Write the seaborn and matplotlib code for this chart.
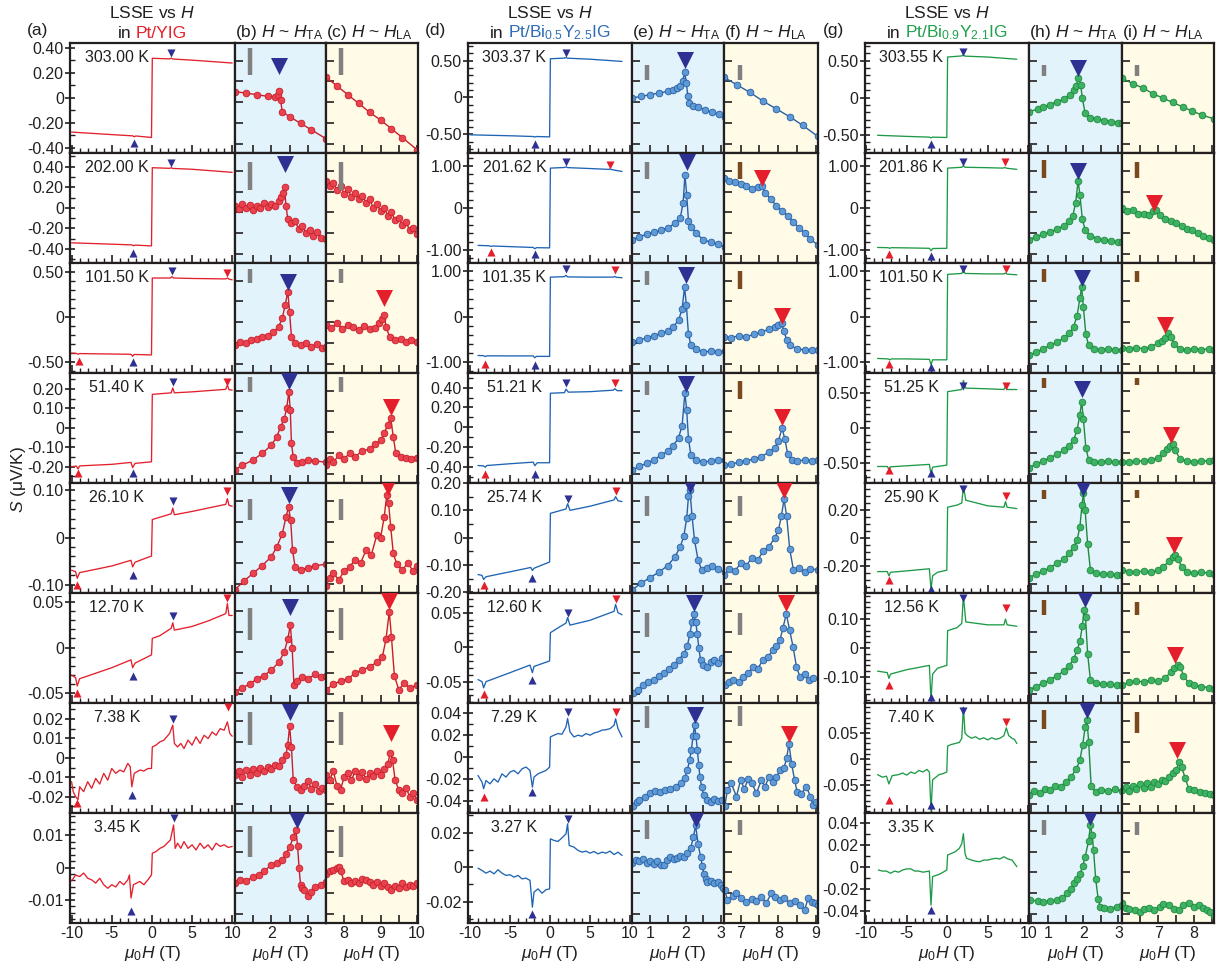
import matplotlib
matplotlib.use("Agg")
import matplotlib.pyplot as plt
import numpy as np
import pandas as pd
import seaborn as sns
from matplotlib.ticker import MultipleLocator, FixedLocator

sns.set_theme(style="white")
plt.rcParams["font.family"] = ["Liberation Sans", "DejaVu Sans"]
plt.rcParams["mathtext.fontset"] = "custom"
plt.rcParams["mathtext.rm"] = "Liberation Sans"
plt.rcParams["mathtext.it"] = "Liberation Sans:italic"
plt.rcParams["mathtext.bf"] = "Liberation Sans:bold"

# ---------------- labels ----------------
temps_yig = ["303.00 K", "202.00 K", "101.50 K", "51.40 K", "26.10 K", "12.70 K", "7.38 K", "3.45 K"]
temps_bi05 = ["303.37 K", "201.62 K", "101.35 K", "51.21 K", "25.74 K", "12.60 K", "7.29 K", "3.27 K"]
temps_bi09 = ["303.55 K", "201.86 K", "101.50 K", "51.25 K", "25.90 K", "12.56 K", "7.40 K", "3.35 K"]

# ---------------- LSSE curves (mu0H [T], S [uV/K]) ----------------
lsse_yig = [
    [(-10,-0.275),(-5,-0.295),(-2.4,-0.305),(-2.2,-0.312),(-2.0,-0.306),(-0.05,-0.318),(0.05,0.315),(2.2,0.31),(2.4,0.316),(2.6,0.309),(5,0.3),(10,0.277)],
    [(-10,-0.34),(-5,-0.353),(-2.5,-0.36),(-2.3,-0.368),(-2.1,-0.362),(-0.05,-0.37),(0.05,0.39),(2.2,0.384),(2.4,0.39),(2.6,0.383),(5,0.375),(10,0.345)],
    [(-10,-0.405),(-9.4,-0.408),(-9.2,-0.418),(-9.0,-0.41),(-5,-0.415),(-2.6,-0.418),(-2.4,-0.44),(-2.2,-0.42),(-0.05,-0.425),(0.05,0.43),(2.3,0.43),(2.5,0.445),(2.7,0.43),(5,0.425),(9.2,0.42),(9.4,0.43),(9.6,0.418),(10,0.41)],
    [(-10,-0.2),(-9.4,-0.197),(-9.2,-0.212),(-9.0,-0.196),(-5,-0.188),(-2.6,-0.178),(-2.4,-0.205),(-2.1,-0.183),(-0.05,-0.175),(0.05,0.172),(2.4,0.18),(2.6,0.205),(2.8,0.18),(5,0.185),(9.2,0.198),(9.4,0.22),(9.6,0.196),(10,0.194)],
    [(-10,-0.069),(-9.5,-0.072),(-9.3,-0.086),(-9.0,-0.074),(-5,-0.06),(-2.6,-0.048),(-2.4,-0.062),(-2.1,-0.052),(-0.05,-0.039),(0.05,0.038),(2.4,0.05),(2.6,0.062),(2.8,0.048),(5,0.055),(9.2,0.07),(9.4,0.082),(9.6,0.068),(10,0.066)],
    [(-10,-0.03),(-9.5,-0.033),(-9.3,-0.042),(-9.0,-0.034),(-7,-0.028),(-5,-0.022),(-2.6,-0.0134),(-2.4,-0.022),(-2.1,-0.017),(-0.05,-0.008),(0.05,0.01),(1,0.013),(2.4,0.021),(2.6,0.027),(2.8,0.019),(5,0.023),(7,0.029),(9.2,0.037),(9.4,0.048),(9.6,0.035),(10,0.035)],
    [(-10,-0.0123),(-9.8,-0.0174),(-9.5,-0.02),(-9.2,-0.0215),(-9,-0.0149),(-8.5,-0.0174),(-8,-0.0123),(-7.5,-0.0157),(-7,-0.0106),(-6.5,-0.0135),(-6,-0.008),(-5.5,-0.0115),(-5,-0.0055),(-4.5,-0.008),(-4,-0.0063),(-3.5,-0.0072),(-3,-0.0029),(-2.7,-0.0046),(-2.5,-0.0149),(-2.2,-0.008),(-1.5,-0.0063),(-1,-0.0068),(-0.5,-0.0055),(-0.05,-0.0055),(0.05,0.0056),(0.5,0.0065),(1,0.0082),(1.5,0.0091),(2.2,0.0125),(2.6,0.0168),(2.8,0.0074),(3.2,0.0056),(3.6,0.0074),(4,0.0048),(4.5,0.0091),(5,0.0065),(5.5,0.0108),(6,0.0074),(6.5,0.0116),(7,0.0099),(7.5,0.0133),(8,0.0116),(8.5,0.015),(9,0.0142),(9.4,0.0185),(9.7,0.0125),(10,0.0111)],
    [(-10,-0.0041),(-9.5,-0.0023),(-9,-0.0028),(-8.5,-0.0017),(-8,-0.0033),(-7.5,-0.0038),(-7,-0.0048),(-6.5,-0.0033),(-6,-0.0053),(-5.5,-0.0064),(-5,-0.0053),(-4.5,-0.006),(-4,-0.0043),(-3.5,-0.0053),(-3,-0.0038),(-2.8,-0.0023),(-2.6,-0.0094),(-2.3,-0.0053),(-1.5,-0.0043),(-1,-0.0053),(-0.5,-0.0038),(-0.05,-0.0023),(0.05,0.0044),(0.5,0.0049),(1,0.0059),(1.5,0.0065),(2.3,0.0085),(2.7,0.0131),(2.9,0.0059),(3.2,0.0075),(3.6,0.0059),(4,0.008),(4.5,0.0059),(5,0.007),(5.5,0.0054),(6,0.0075),(6.5,0.0059),(7,0.007),(7.5,0.0054),(8,0.0075),(8.5,0.0065),(9,0.007),(9.5,0.0062),(10,0.0065)],
]
lsse_bi05 = [
    [(-10,-0.507),(-5,-0.52),(-2.1,-0.53),(-1.9,-0.537),(-1.7,-0.53),(-0.05,-0.535),(0.05,0.526),(1.8,0.535),(2.0,0.542),(2.2,0.534),(5,0.52),(9,0.49)],
    [(-9,-0.89),(-7.6,-0.9),(-7.4,-0.915),(-7.2,-0.905),(-5,-0.92),(-2.1,-0.94),(-1.9,-0.97),(-1.7,-0.945),(-0.05,-0.95),(0.05,0.95),(1.8,0.965),(2.0,0.98),(2.2,0.962),(5,0.94),(7.3,0.92),(7.5,0.93),(7.7,0.915),(9,0.87)],
    [(-9,-0.85),(-8.3,-0.855),(-8.1,-0.875),(-7.9,-0.858),(-5,-0.86),(-2.1,-0.86),(-1.9,-0.9),(-1.7,-0.87),(-0.05,-0.87),(0.05,0.87),(1.8,0.88),(2.0,0.91),(2.2,0.875),(5,0.87),(7.9,0.87),(8.1,0.885),(8.3,0.865),(9,0.857)],
    [(-9,-0.388),(-8.3,-0.392),(-8.1,-0.405),(-7.9,-0.388),(-5,-0.37),(-2.1,-0.354),(-1.9,-0.39),(-1.6,-0.36),(-0.05,-0.36),(0.05,0.344),(1.8,0.35),(2.0,0.385),(2.3,0.355),(5,0.36),(7.9,0.375),(8.1,0.39),(8.4,0.37),(9,0.37)],
    [(-9,-0.135),(-8.5,-0.138),(-8.3,-0.153),(-8.0,-0.143),(-5,-0.125),(-2.4,-0.109),(-2.2,-0.12),(-2.0,-0.112),(-0.05,-0.089),(0.05,0.089),(2.0,0.105),(2.2,0.124),(2.5,0.1),(5,0.115),(8.0,0.138),(8.2,0.15),(8.5,0.135),(9,0.132)],
    [(-9,-0.047),(-8.5,-0.05),(-8.3,-0.059),(-8.0,-0.05),(-5,-0.037),(-2.5,-0.026),(-2.2,-0.037),(-2.0,-0.028),(-0.05,-0.02),(0.05,0.021),(1,0.028),(2.0,0.035),(2.2,0.043),(2.5,0.032),(5,0.039),(8.0,0.052),(8.2,0.062),(8.5,0.05),(9,0.047)],
    [(-9,-0.0169),(-8.5,-0.023),(-8.3,-0.029),(-8,-0.0215),(-7.5,-0.0246),(-7,-0.02),(-6.5,-0.023),(-6,-0.0154),(-5.5,-0.0184),(-5,-0.0138),(-4.5,-0.0123),(-4,-0.0154),(-3.5,-0.0108),(-3,-0.0092),(-2.5,-0.0123),(-2.2,-0.0276),(-2,-0.0184),(-1.5,-0.0154),(-1,-0.0138),(-0.5,-0.0123),(-0.05,-0.0092),(0.05,0.0184),(0.5,0.02),(1,0.0215),(1.5,0.0209),(2,0.0276),(2.2,0.0353),(2.5,0.023),(3,0.0184),(3.5,0.02),(4,0.019),(4.5,0.0215),(5,0.02),(5.5,0.022),(6,0.023),(6.5,0.0246),(7,0.025),(7.5,0.026),(8,0.029),(8.2,0.035),(8.5,0.026),(8.8,0.0215),(9,0.0184)],
    [(-9,-0.0006),(-8.5,-0.0019),(-8,-0.0035),(-7.5,-0.0023),(-7,-0.0039),(-6.5,-0.0015),(-6,-0.0035),(-5.5,-0.0048),(-5,-0.0044),(-4.5,-0.0058),(-4,-0.0048),(-3.5,-0.0068),(-3,-0.0064),(-2.5,-0.0077),(-2.2,-0.0232),(-2,-0.0145),(-1.5,-0.0126),(-1,-0.0151),(-0.5,-0.0131),(-0.05,-0.0126),(0.05,0.0164),(0.5,0.0155),(1,0.0149),(1.5,0.017),(2,0.0193),(2.2,0.0251),(2.4,0.0126),(3,0.0116),(3.5,0.0097),(4,0.0087),(4.5,0.0093),(5,0.0081),(5.5,0.0091),(6,0.0077),(6.5,0.0087),(7,0.0081),(7.5,0.0093),(8,0.0073),(8.5,0.0087),(9,0.0068)],
]
lsse_bi09 = [
    [(-8.6,-0.51),(-5,-0.525),(-2.2,-0.535),(-2.0,-0.545),(-1.8,-0.535),(-0.05,-0.54),(0.05,0.55),(1.8,0.565),(2.0,0.575),(2.2,0.562),(5,0.55),(8.6,0.52)],
    [(-8.6,-0.94),(-7.3,-0.945),(-7.1,-0.96),(-6.9,-0.945),(-5,-0.95),(-2.2,-0.96),(-2.0,-1.02),(-1.8,-0.965),(-0.05,-0.96),(0.05,0.95),(1.8,0.97),(2.0,1.01),(2.2,0.97),(5,0.96),(6.9,0.95),(7.1,0.965),(7.3,0.948),(8.6,0.92)],
    [(-8.6,-0.92),(-7.3,-0.93),(-7.1,-0.95),(-6.9,-0.93),(-5,-0.93),(-2.2,-0.94),(-2.0,-1.06),(-1.8,-0.95),(-0.05,-0.95),(0.05,0.93),(1.8,0.95),(2.0,1.02),(2.2,0.95),(5,0.94),(7.0,0.94),(7.2,0.96),(7.4,0.935),(8.6,0.92)],
    [(-8.6,-0.55),(-7.4,-0.55),(-7.2,-0.59),(-7.0,-0.555),(-5,-0.54),(-2.2,-0.52),(-2.0,-0.66),(-1.8,-0.56),(-0.05,-0.53),(0.05,0.52),(1.8,0.55),(2.0,0.68),(2.3,0.57),(5,0.56),(7.0,0.55),(7.2,0.6),(7.4,0.55),(8.6,0.55)],
    [(-8.6,-0.24),(-7.4,-0.24),(-7.2,-0.27),(-7.0,-0.245),(-5,-0.235),(-2.2,-0.22),(-2.0,-0.37),(-1.8,-0.27),(-1.2,-0.245),(-0.05,-0.23),(0.05,0.22),(1.2,0.235),(1.8,0.25),(2.0,0.37),(2.3,0.27),(5,0.23),(7.0,0.22),(7.2,0.26),(7.4,0.22),(8.6,0.21)],
    [(-8.6,-0.08),(-7.4,-0.085),(-7.2,-0.105),(-7.0,-0.09),(-5,-0.075),(-2.2,-0.06),(-2.0,-0.18),(-1.8,-0.09),(-1.2,-0.07),(-0.05,-0.06),(0.05,0.06),(1.2,0.07),(1.8,0.085),(2.0,0.18),(2.3,0.09),(5,0.08),(7.0,0.08),(7.2,0.1),(7.4,0.08),(8.6,0.075)],
    [(-8.6,-0.03),(-8.0,-0.035),(-7.5,-0.033),(-7.2,-0.048),(-6.8,-0.032),(-6,-0.03),(-5.5,-0.027),(-5,-0.031),(-4.5,-0.025),(-4,-0.028),(-3.5,-0.022),(-3,-0.025),(-2.5,-0.02),(-2.2,-0.025),(-2.0,-0.1),(-1.8,-0.04),(-1.4,-0.035),(-1,-0.03),(-0.5,-0.028),(-0.05,-0.025),(0.05,0.025),(0.5,0.028),(1,0.03),(1.5,0.032),(1.8,0.04),(2.0,0.1),(2.2,0.05),(2.5,0.045),(3,0.04),(3.5,0.043),(4,0.038),(4.5,0.041),(5,0.037),(5.5,0.041),(6,0.038),(6.5,0.04),(7,0.045),(7.3,0.06),(7.6,0.045),(8,0.04),(8.3,0.038),(8.6,0.03)],
    [(-8.5,-0.003),(-8,-0.004),(-7.5,-0.004),(-7,-0.006),(-6.5,-0.004),(-6,-0.005),(-5.5,-0.003),(-5,-0.002),(-4.5,-0.002),(-4,-0.004),(-3.5,-0.004),(-3,-0.005),(-2.2,-0.004),(-2.0,-0.035),(-1.8,-0.009),(-1.4,-0.008),(-1,-0.007),(-0.5,-0.005),(-0.05,-0.003),(0.05,0.0106),(0.5,0.012),(1,0.0136),(1.5,0.0167),(1.8,0.021),(2.0,0.03),(2.2,0.012),(2.4,0.0076),(3,0.006),(3.5,0.005),(4,0.0045),(4.5,0.006),(5,0.006),(5.5,0.007),(6,0.0076),(6.5,0.007),(7,0.009),(7.5,0.007),(8,0.006),(8.6,0.0)],
]

# LSSE anomaly markers: (blue down, blue up, red down, red up)
tri_yig = [
    [(2.4,0.36),(-2.2,-0.36),None,None],
    [(2.4,0.44),(-2.3,-0.44),None,None],
    [(2.5,0.51),(-2.4,-0.50),(9.3,0.49),(-9.1,-0.49)],
    [(2.6,0.237),(-2.4,-0.235),(9.4,0.237),(-9.2,-0.235)],
    [(2.6,0.076),(-2.4,-0.078),(9.4,0.098),(-9.3,-0.10)],
    [(2.6,0.034),(-2.4,-0.0315),(9.4,0.054),(-9.3,-0.05)],
    [(2.6,0.02),(-2.5,-0.019),(9.5,0.026),(-9.3,-0.0235)],
    [(2.7,0.0152),(-2.6,-0.0135),None,None],
]
tri_bi05 = [
    [(2.0,0.61),(-1.9,-0.63),None,None],
    [(2.0,1.1),(-1.9,-1.1),(7.5,1.03),(-7.4,-1.05)],
    [(2.0,1.04),(-1.9,-1.05),(8.1,1.02),(-8.1,-1.03)],
    [(2.0,0.45),(-1.9,-0.47),(8.1,0.45),(-8.1,-0.47)],
    [(2.2,0.142),(-2.2,-0.146),(8.2,0.17),(-8.3,-0.173)],
    [(2.2,0.05),(-2.2,-0.048),(8.2,0.07),(-8.3,-0.0686)],
    [(2.2,0.041),(-2.2,-0.032),(8.2,0.041),(-8.3,-0.037)],
    [(2.2,0.028),(-2.2,-0.027),None,None],
]
tri_bi09 = [
    [(2.0,0.62),(-2.0,-0.63),None,None],
    [(2.0,1.1),(-2.0,-1.14),(7.1,1.1),(-7.2,-1.1)],
    [(2.0,1.05),(-2.0,-1.1),(7.2,1.05),(-7.2,-1.05)],
    [(2.0,0.6),(-2.0,-0.64),(7.2,0.6),(-7.2,-0.6)],
    [(2.0,0.35),(-2.0,-0.364),(7.2,0.3),(-7.2,-0.3)],
    [(2.0,0.172),(-2.0,-0.17),(7.2,0.138),(-7.2,-0.128)],
    [(2.0,0.092),(-2.0,-0.088),(7.3,0.071),(-7.2,-0.079)],
    [None,(-2.0,-0.039),None,None],
]

ylim_yig = [(-0.442,0.437),(-0.536,0.533),(-0.626,0.597),(-0.284,0.282),(-0.117,0.115),(-0.0605,0.0595),(-0.0284,0.0282),(-0.0171,0.0168)]
ylim_bi05 = [(-0.754,0.74),(-1.31,1.31),(-1.235,1.18),(-0.565,0.549),(-0.2025,0.2),(-0.081,0.0786),(-0.0513,0.0495),(-0.0324,0.0314)]
ylim_bi09 = [(-0.75,0.74),(-1.31,1.31),(-1.24,1.18),(-0.786,0.786),(-0.393,0.393),(-0.19,0.19),(-0.104,0.108),(-0.0512,0.0488)]
yt_yig = [[-0.4,-0.2,0,0.2,0.4],[-0.4,-0.2,0,0.2,0.4],[-0.5,0,0.5],[-0.2,-0.1,0,0.1,0.2],[-0.1,0,0.1],[-0.05,0,0.05],[-0.02,-0.01,0,0.01,0.02],[-0.01,0,0.01]]
yt_bi05 = [[-0.5,0,0.5],[-1,0,1],[-1,0,1],[-0.4,-0.2,0,0.2,0.4],[-0.2,-0.1,0,0.1,0.2],[-0.05,0,0.05],[-0.04,-0.02,0,0.02,0.04],[-0.02,0,0.02]]
yt_bi09 = [[-0.5,0,0.5],[-1,0,1],[-1,0,1],[-0.5,0,0.5],[-0.2,0,0.2],[-0.1,0,0.1],[-0.05,0,0.05],[-0.04,-0.02,0,0.02,0.04]]
ymin_yig = [0.1,0.1,0.1,0.05,0.02,0.01,0.005,0.002]
ymin_bi05 = [0.1,0.2,0.2,0.1,0.05,0.01,0.01,0.01]
ymin_bi09 = [0.1,0.2,0.2,0.1,0.05,0.02,0.01,0.01]

# ---------------- zoomed panels near H_TA / H_LA (signal in % of panel height) ----------------
ta_yig = [
    [(1.0,55.7),(1.3,54.5),(1.6,53),(1.9,51.5),(2.1,51),(2.18,53),(2.21,56.6),(2.25,48),(2.3,37.5),(2.5,33),(2.8,27),(3.1,21),(3.5,13)],
    [(1.0,52),(1.1,49),(1.2,54),(1.3,50),(1.4,53),(1.5,48),(1.6,52),(1.7,50),(1.8,55),(1.9,51),(2.0,54),(2.1,52),(2.2,56),(2.27,60),(2.32,64),(2.36,69),(2.4,52),(2.45,40),(2.55,36),(2.65,38),(2.75,31),(2.85,34),(2.95,27),(3.05,30),(3.15,25),(3.25,28),(3.35,23),(3.5,22)],
    [(1.0,25),(1.15,28),(1.3,27),(1.45,30),(1.6,31),(1.75,33),(1.9,34),(2.05,37),(2.2,42),(2.3,50),(2.38,62),(2.45,74),(2.5,55),(2.55,33),(2.65,27),(2.8,25),(2.95,27),(3.1,24),(3.25,26),(3.4,23),(3.5,24)],
    [(1.0,12),(1.2,16),(1.5,21),(1.75,27),(2.0,34.5),(2.15,42),(2.25,51),(2.35,58),(2.42,68),(2.48,83),(2.52,66),(2.55,36),(2.6,24),(2.7,18),(2.85,19),(3.0,21),(3.2,20),(3.5,19)],
    [(1.0,3),(1.25,11),(1.5,18),(1.75,25),(2.0,33),(2.15,42),(2.3,54),(2.4,69),(2.47,78),(2.53,66),(2.58,39),(2.65,24),(2.8,21),(3.0,23),(3.2,25),(3.5,26)],
    [(1.0,10),(1.2,14),(1.4,17),(1.6,22),(1.8,25),(2.0,30),(2.2,37),(2.35,46),(2.45,58),(2.52,71),(2.57,50),(2.62,16),(2.7,20),(2.85,24),(3.0,22),(3.2,26),(3.35,24),(3.5,25)],
    [(1.0,35),(1.1,38),(1.2,33),(1.3,39),(1.4,35),(1.5,40),(1.6,36),(1.7,41),(1.8,38),(1.9,42),(2.0,40),(2.1,44),(2.2,43),(2.3,48),(2.4,53),(2.45,62),(2.5,79),(2.55,60),(2.6,30),(2.7,24),(2.8,21),(2.9,25),(3.0,29),(3.1,22),(3.2,26),(3.3,20),(3.4,23),(3.5,21)],
    [(1.0,36),(1.15,39),(1.3,38),(1.5,42),(1.65,44),(1.8,47),(2.0,53),(2.15,55),(2.3,57),(2.4,63),(2.5,69),(2.6,78),(2.67,85),(2.72,70),(2.76,50),(2.8,35),(2.85,32),(2.9,30),(3.0,25),(3.1,28),(3.2,33),(3.35,35),(3.5,37.5)],
]
la_yig = [
    [(7.5,69),(7.8,61),(8.1,53),(8.4,45),(8.7,37),(9.0,30),(9.3,22),(9.6,14),(10.0,3)],
    [(7.5,75),(7.6,70),(7.7,73),(7.8,66),(7.9,70),(8.0,63),(8.1,67),(8.2,60),(8.3,64),(8.4,58),(8.5,61),(8.6,55),(8.7,58),(8.8,50),(8.9,54),(9.0,47),(9.1,50),(9.2,43),(9.3,46),(9.4,39),(9.5,41),(9.6,35),(9.7,37),(9.8,30),(9.9,32),(10.0,26)],
    [(7.5,44),(7.65,41),(7.8,45),(7.95,40),(8.1,44),(8.25,42),(8.4,39),(8.55,43),(8.7,40),(8.85,41),(8.95,45),(9.05,49),(9.1,53),(9.15,42),(9.25,33),(9.4,30),(9.55,31),(9.7,28),(9.85,30),(10.0,28)],
    [(7.5,16),(7.6,22),(7.7,19),(7.85,25),(8.0,22),(8.15,27),(8.3,24),(8.5,29),(8.7,31),(8.85,35),(9.0,39),(9.1,45),(9.2,53),(9.28,59),(9.35,42),(9.42,27),(9.55,24),(9.7,23),(9.85,22),(10.0,22.5)],
    [(7.5,6),(7.6,14),(7.7,18),(7.85,12),(8.0,20),(8.15,24),(8.3,30),(8.45,27),(8.6,39),(8.75,35),(8.9,53),(9.0,50),(9.1,69),(9.17,89),(9.22,82),(9.28,60),(9.35,36),(9.45,26),(9.6,21),(9.75,27),(9.9,20),(10.0,25)],
    [(7.5,12),(7.7,17),(7.9,20),(8.1,22),(8.3,27),(8.5,30),(8.7,33),(8.9,37),(9.05,42),(9.15,58),(9.24,83),(9.3,60),(9.38,25),(9.5,12),(9.65,18),(9.8,14),(10.0,16)],
    [(7.5,35),(7.6,30),(7.7,38),(7.8,25),(7.9,21),(8.0,33),(8.1,36),(8.2,30),(8.3,38),(8.4,33),(8.5,37),(8.6,31),(8.7,36),(8.8,34),(8.9,38),(9.0,35),(9.1,40),(9.2,45),(9.27,55),(9.33,48),(9.4,30),(9.5,21),(9.6,18),(9.7,23),(9.8,15),(9.9,18),(10.0,12)],
    [(7.5,45),(7.6,47),(7.7,48),(7.8,50),(7.85,51),(7.9,47),(8.0,38),(8.1,39),(8.2,36),(8.3,38),(8.4,36),(8.5,40),(8.6,39),(8.7,37),(8.8,35),(8.9,37),(9.0,34),(9.1,36),(9.2,33),(9.3,30),(9.4,34),(9.5,32),(9.6,36),(9.7,33),(9.8,35),(9.9,34),(10.0,36)],
]
ta_bi05 = [
    [(0.5,50),(0.75,51.5),(1.0,53),(1.25,54.5),(1.5,56),(1.65,57),(1.76,59),(1.85,61),(1.92,65),(1.97,74),(2.02,64),(2.06,52),(2.1,45),(2.2,43),(2.35,42),(2.55,39),(2.75,37),(2.95,35),(3.1,33)],
    [(0.5,21),(0.7,24),(0.9,26),(1.1,28),(1.3,30),(1.5,32),(1.7,36),(1.85,41),(1.93,55),(1.98,80),(2.03,62),(2.08,38),(2.15,33),(2.3,27),(2.5,21),(2.7,19),(2.9,17),(3.1,15)],
    [(0.5,28),(0.7,30),(0.9,32),(1.1,34),(1.3,36),(1.5,38),(1.65,42),(1.8,48),(1.9,58),(1.97,78),(2.02,62),(2.08,35),(2.15,25),(2.3,22),(2.5,19),(2.7,20),(2.9,19),(3.1,20)],
    [(0.5,12),(0.7,15),(0.9,18),(1.1,21),(1.3,25),(1.5,29),(1.65,34),(1.8,41),(1.9,52),(1.98,82),(2.03,66),(2.08,40),(2.15,25),(2.3,21),(2.5,19),(2.7,20),(2.9,21),(3.1,21)],
    [(0.5,3),(0.75,9),(1.0,14),(1.25,19),(1.5,25),(1.7,33),(1.85,42),(1.95,52),(2.03,68),(2.08,88),(2.12,94),(2.18,70),(2.25,48),(2.35,30),(2.45,21),(2.6,23),(2.75,25),(2.9,22),(3.1,19)],
    [(0.53,9),(0.65,12),(0.81,16),(0.95,19),(1.1,21),(1.25,25),(1.38,27),(1.52,31),(1.67,35),(1.8,39),(1.95,45),(2.05,52),(2.12,63),(2.18,74),(2.23,81),(2.28,74),(2.33,63),(2.37,50),(2.42,39),(2.5,35),(2.61,33),(2.7,37),(2.8,39),(2.92,36),(3.03,41)],
    [(0.53,6),(0.62,10),(0.7,12),(0.85,15),(1.0,18),(1.15,20),(1.29,19.4),(1.43,21),(1.57,22),(1.72,24),(1.86,27),(1.97,32),(2.05,39),(2.11,48),(2.16,57),(2.21,70),(2.25,80),(2.29,70),(2.33,57),(2.37,44),(2.4,33),(2.45,24),(2.51,16),(2.6,12),(2.7,10),(2.8,13),(2.9,11),(3.03,12)],
    [(0.5,55),(0.6,57),(0.7,56),(0.8,58),(0.9,55),(1.0,56),(1.1,54),(1.2,56),(1.3,53),(1.38,53),(1.47,57),(1.57,60),(1.66,58),(1.75,59),(1.85,61),(1.95,60),(2.05,64),(2.14,68),(2.22,78),(2.28,89),(2.35,72),(2.42,60),(2.47,52),(2.51,45),(2.56,40),(2.6,37.5),(2.7,38),(2.8,36),(2.9,37),(2.99,35),(3.05,32),(3.1,30)],
]
la_bi05 = [
    [(6.55,69),(6.9,62),(7.25,55),(7.6,47),(7.95,40),(8.3,33),(8.65,25),(9.05,15)],
    [(6.55,77),(6.7,75),(6.85,74),(7.0,72),(7.15,70),(7.3,67),(7.45,69),(7.56,70),(7.65,64),(7.8,58),(7.95,52),(8.1,47),(8.25,43),(8.4,37),(8.55,32),(8.7,27),(8.85,22),(9.05,16)],
    [(6.55,33),(6.75,32),(6.95,34),(7.15,33),(7.35,35),(7.55,37),(7.75,40),(7.9,42),(8.0,44),(8.09,45),(8.15,38),(8.22,30),(8.3,25),(8.5,22),(8.7,21),(8.9,21),(9.05,21)],
    [(6.55,16),(6.75,17),(6.95,19),(7.15,20),(7.35,22),(7.55,24),(7.75,28),(7.9,32),(8.0,38),(8.1,50),(8.17,40),(8.25,26),(8.35,21),(8.5,20),(8.7,21),(8.9,20),(9.05,21)],
    [(6.55,16),(6.7,22),(6.85,20),(7.0,27),(7.15,25),(7.3,32),(7.45,30),(7.6,38),(7.75,42),(7.9,50),(8.0,57),(8.08,70),(8.15,85),(8.22,70),(8.3,40),(8.4,21),(8.55,23),(8.7,19),(8.85,22),(9.05,21)],
    [(6.58,16),(6.7,19),(6.8,21),(6.95,19),(7.06,24),(7.2,27),(7.33,33),(7.45,31),(7.59,39),(7.72,42),(7.86,48),(7.95,52),(8.04,57),(8.12,68),(8.21,81),(8.3,66),(8.39,51),(8.48,33),(8.57,24),(8.7,26),(8.8,21),(8.92,22.5)],
    [(6.58,6),(6.65,21),(6.75,27),(6.89,15),(7.0,30),(7.1,22),(7.2,31),(7.3,27),(7.42,18),(7.55,30),(7.65,24),(7.75,33),(7.85,28),(7.95,33),(8.05,39),(8.15,41),(8.22,50),(8.28,63),(8.35,45),(8.43,30),(8.5,19),(8.6,17),(8.74,24),(8.85,15),(8.92,7),(9.0,10)],
    [(6.58,30),(6.65,21),(6.8,25),(6.89,27),(7.0,23),(7.15,19.4),(7.3,22),(7.42,20),(7.55,24),(7.68,18),(7.81,27),(7.92,24),(8.04,21),(8.15,23),(8.3,18),(8.45,20),(8.57,16),(8.7,12),(8.79,23),(8.88,19),(8.96,18),(9.05,16)],
]
ta_bi09 = [
    [(0.45,37.5),(0.7,40),(0.86,42),(1.05,44),(1.24,46.6),(1.45,49),(1.62,53),(1.72,57),(1.79,61),(1.86,68),(1.92,62),(1.97,50),(2.05,36),(2.2,32),(2.4,31),(2.6,29.5),(2.8,28.5),(3.0,27.5),(3.1,27)],
    [(0.45,21),(0.65,24),(0.85,26),(1.05,28),(1.25,31),(1.45,34),(1.6,38),(1.7,43),(1.78,55),(1.85,75),(1.9,62),(1.97,40),(2.05,30),(2.2,25),(2.4,22),(2.6,21),(2.8,20),(3.0,19),(3.1,19)],
    [(0.45,16),(0.65,19),(0.85,22),(1.05,25),(1.25,28),(1.45,32),(1.6,36),(1.72,42),(1.82,52),(1.9,68),(1.95,78),(2.0,60),(2.07,35),(2.15,25),(2.3,22),(2.5,21),(2.7,22),(2.9,21),(3.1,21)],
    [(0.45,14),(0.65,17),(0.85,20),(1.05,23),(1.25,26),(1.45,30),(1.6,34),(1.72,39),(1.82,48),(1.9,62),(1.95,74),(2.0,58),(2.07,32),(2.15,21),(2.3,19),(2.5,19),(2.7,20),(2.9,19),(3.1,19)],
    [(0.45,14),(0.65,17),(0.85,20),(1.05,23),(1.25,27),(1.45,31),(1.6,36),(1.72,42),(1.82,48),(1.9,60),(1.96,80),(2.0,91),(2.05,75),(2.12,45),(2.2,21),(2.35,18),(2.55,17),(2.75,17),(2.95,16),(3.1,16)],
    [(0.45,12),(0.65,15),(0.85,18),(1.05,21),(1.25,25),(1.45,29),(1.6,34),(1.72,40),(1.82,48),(1.9,56),(1.97,70),(2.02,85),(2.06,78),(2.12,45),(2.2,21),(2.35,18),(2.55,17),(2.75,17),(2.95,16),(3.1,16)],
    [(0.45,16),(0.6,20),(0.75,18),(0.9,22),(1.05,21),(1.2,25),(1.35,24),(1.5,28),(1.65,33),(1.8,40),(1.9,48),(1.98,62),(2.05,78),(2.1,85),(2.15,65),(2.22,25),(2.35,19),(2.5,21),(2.7,20),(2.9,22),(3.1,20)],
    [(0.48,21),(0.7,20),(0.86,19),(1.05,20),(1.24,21),(1.4,23),(1.53,27),(1.65,31),(1.72,36),(1.82,40),(1.91,45),(1.98,52),(2.05,60),(2.15,75),(2.2,89),(2.25,80),(2.29,66),(2.35,40),(2.42,22),(2.48,15),(2.6,14),(2.76,13),(2.95,15),(3.1,16)],
]
la_bi09 = [
    [(6.0,68),(6.3,63),(6.59,59),(6.85,54),(7.13,50),(7.4,46),(7.68,42),(7.95,38),(8.22,34.5),(8.55,31)],
    [(6.0,50),(6.15,47),(6.3,48),(6.45,45),(6.6,45),(6.75,44),(6.85,47),(6.95,48),(7.05,44),(7.2,40),(7.35,38),(7.5,36),(7.65,34),(7.8,31),(7.95,30),(8.1,27),(8.25,25),(8.4,23),(8.55,21)],
    [(6.0,23),(6.2,22),(6.4,23),(6.6,22),(6.8,24),(7.0,27),(7.1,29),(7.2,32),(7.28,36),(7.35,33),(7.45,26),(7.6,22),(7.8,21),(8.0,22),(8.2,21),(8.4,22),(8.55,21)],
    [(6.0,19),(6.2,19),(6.4,20),(6.6,20),(6.8,21),(7.0,23),(7.15,27),(7.25,31),(7.33,34),(7.4,35),(7.48,30),(7.6,22),(7.8,20),(8.0,19),(8.2,20),(8.4,20),(8.55,21)],
    [(6.0,21),(6.2,19),(6.4,19),(6.6,20),(6.8,19),(7.0,21),(7.15,24),(7.3,29),(7.4,33),(7.48,35),(7.55,31),(7.65,24),(7.8,19),(8.0,18),(8.2,19),(8.4,18),(8.55,17)],
    [(6.0,16),(6.2,19),(6.4,20),(6.6,19),(6.8,21),(7.0,20),(7.2,23),(7.35,28),(7.45,32),(7.55,35),(7.62,33),(7.7,25),(7.85,18),(8.0,16),(8.2,15),(8.4,14),(8.55,13)],
    [(6.0,21),(6.1,24),(6.2,20),(6.3,25),(6.4,22),(6.5,26),(6.6,23),(6.7,27),(6.8,24),(6.9,28),(7.0,26),(7.1,30),(7.2,29),(7.3,33),(7.4,36),(7.5,39),(7.58,46),(7.65,42),(7.75,32),(7.85,22),(8.0,21),(8.15,19),(8.3,18),(8.45,17),(8.55,16)],
    [(6.0,18),(6.1,14),(6.2,13),(6.35,12),(6.49,10),(6.6,13),(6.75,14),(6.9,12),(7.04,15),(7.15,17),(7.31,16),(7.45,13),(7.58,12),(7.7,16),(7.85,18),(8.0,15),(8.13,16),(8.25,14),(8.36,12),(8.45,10),(8.55,6)],
]
# big triangles above the peaks (field, % height)
ta_tri_yig = [(2.21,79),(2.36,90),(2.45,83),(2.48,93),(2.47,89),(2.52,87),(2.5,92),(2.7,94)]
la_tri_yig = [None,None,(9.1,68),(9.28,69),(9.2,96),(9.24,93),(9.3,73),None]
ta_tri_bi05 = [(1.97,84.5),(2.03,92),(2.0,89),(2.0,90),(2.13,98),(2.23,91),(2.25,89),(2.28,95)]
la_tri_bi05 = [None,(7.56,77),(8.09,52),(8.1,60),(8.15,94),(8.21,91),(8.28,72),None]
ta_tri_bi09 = [(1.86,77),(1.85,84),(1.95,86),(1.95,85),(2.0,95),(2.05,95),(2.1,94),(2.2,96)]
la_tri_bi09 = [None,(6.9,55),(7.2,44),(7.36,44),(7.44,44),(7.47,44),(7.53,57),None]

# scale bars (top %, bottom %, colour key) for TA / LA panels
bar_ta_yig = [(95,71,"g"),(92,66,"g"),(95,82,"g"),(96,83,"g"),(85,66,"g"),(86,57,"g"),(92,62,"g"),(88,60,"g")]
bar_la_yig = [(95,71,"g"),(92,66,"g"),(95,82,"g"),(96,83,"g"),(85,66,"g"),(86,57,"g"),(92,62,"g"),(88,60,"g")]
bar_ta_bi05 = [(80,66,"g"),(92,76,"g"),(93,80,"g"),(93,80,"g"),(88,70,"g"),(82,60,"g"),(97,77,"g"),(94,76,"g")]
bar_la_bi05 = [(80,66,"g"),(92,76,"b"),(93,76,"b"),(93,76,"b"),(88,70,"g"),(82,62,"g"),(97,79,"g"),(94,80,"g")]
bar_ta_bi09 = [(80,70,"g"),(94,77,"b"),(95,83,"b"),(95,86,"b"),(94,85,"b"),(94,80,"b"),(94,76,"b"),(94,80,"g")]
bar_la_bi09 = [(80,70,"g"),(92,77,"b"),(93,83,"b"),(95,89,"b"),(94,86,"b"),(92,80,"b"),(92,73,"b"),(92,80,"g")]

# ---------------- styling ----------------
W, H = 1228, 971
fig = plt.figure(figsize=(W / 100, H / 100), dpi=100)
ink = "#231F20"
blue_tri = "#2E3192"
red_tri = "#E41E2B"
bar_cols = {"g": "#808080", "b": "#7A4A1E"}
bg_ta = "#E3F3FC"
bg_la = "#FFFBE6"

groups = [
    dict(lsse=lsse_yig, tri=tri_yig, ylim=ylim_yig, yt=yt_yig, ymin=ymin_yig, temps=temps_yig,
         ta=ta_yig, la=la_yig, ta_tri=ta_tri_yig, la_tri=la_tri_yig, bta=bar_ta_yig, bla=bar_la_yig,
         cols=[(70, 235), (235, 326), (326, 418)], hx=(-10.2, 10.35), tax=(1.0, 3.5), lax=(7.5, 10.03),
         tat=[1, 2, 3], tal=["", "2", "3"], lat=[8, 9, 10], lal=["8", "9", "10"],
         line="#E3202C", mfc="#E8434E", mec="#C81E2A",
         letters=["(a)", "(b)", "(c)"], mat="Pt/YIG"),
    dict(lsse=lsse_bi05, tri=tri_bi05, ylim=ylim_bi05, yt=yt_bi05, ymin=ymin_bi05, temps=temps_bi05,
         ta=ta_bi05, la=la_bi05, ta_tri=ta_tri_bi05, la_tri=la_tri_bi05, bta=bar_ta_bi05, bla=bar_la_bi05,
         cols=[(468, 632), (632, 724), (724, 818)], hx=(-10.25, 10.25), tax=(0.49, 3.08), lax=(6.56, 9.05),
         tat=[1, 2, 3], tal=["1", "2", "3"], lat=[7, 8, 9], lal=["7", "8", "9"],
         line="#1F64B4", mfc="#5E9BD6", mec="#2A5FA5",
         letters=["(d)", "(e)", "(f)"], mat="Pt/Bi$_{0.5}$Y$_{2.5}$IG"),
    dict(lsse=lsse_bi09, tri=tri_bi09, ylim=ylim_bi09, yt=yt_bi09, ymin=ymin_bi09, temps=temps_bi09,
         ta=ta_bi09, la=la_bi09, ta_tri=ta_tri_bi09, la_tri=la_tri_bi09, bta=bar_ta_bi09, bla=bar_la_bi09,
         cols=[(865, 1029), (1029, 1122), (1122, 1214)], hx=(-10.15, 10.1), tax=(0.45, 3.1), lax=(6.0, 8.55),
         tat=[1, 2, 3], tal=["1", "2", "3"], lat=[7, 8], lal=["7", "8"],
         line="#1E9A47", mfc="#3DB363", mec="#1F8A3F",
         letters=["(g)", "(h)", "(i)"], mat="Pt/Bi$_{0.9}$Y$_{2.1}$IG"),
]

ROW_TOP, ROW_H = 43, 110
FS = 11.5


def add_ax(x0, x1, r):
    y0 = ROW_TOP + r * ROW_H
    y1 = y0 + ROW_H
    return fig.add_axes([x0 / W, 1 - y1 / H, (x1 - x0) / W, ROW_H / H])


def frame(ax):
    for s in ax.spines.values():
        s.set_color(ink)
        s.set_linewidth(1.6)
        s.set_visible(True)


def fmt(v):
    return "0" if abs(v) < 1e-12 else f"{v:.2f}"


for g in groups:
    for r in range(8):
        last = r == 7
        # ---- LSSE panel ----
        ax = add_ax(*g["cols"][0], r)
        frame(ax)
        df = pd.DataFrame(g["lsse"][r], columns=["H", "S"])
        sns.lineplot(data=df, x="H", y="S", ax=ax, sort=False, estimator=None, color=g["line"], lw=0.95)
        ax.set_xlim(*g["hx"])
        ax.set_ylim(*g["ylim"][r])
        ax.set_xlabel("")
        ax.set_ylabel("")
        ax.xaxis.set_major_locator(FixedLocator([-10, -5, 0, 5, 10]))
        ax.xaxis.set_minor_locator(MultipleLocator(1))
        ax.yaxis.set_major_locator(FixedLocator(g["yt"][r]))
        ax.yaxis.set_minor_locator(MultipleLocator(g["ymin"][r]))
        ax.set_yticklabels([fmt(v) for v in g["yt"][r]])
        ax.tick_params(axis="x", which="major", direction="in", length=6, width=1.2, colors=ink, labelsize=FS, pad=2,
                       bottom=True, top=False, labelbottom=last)
        ax.tick_params(axis="x", which="minor", direction="in", length=3.5, width=1.0, colors=ink, bottom=True, top=False)
        ax.tick_params(axis="y", which="major", direction="inout", length=7, width=1.2, colors=ink, labelsize=FS, pad=1,
                       left=True, right=False)
        ax.tick_params(axis="y", which="minor", direction="in", length=3.5, width=1.0, colors=ink, left=True, right=False)
        if last:
            ax.set_xticklabels(["-10", "-5", "0", "5", "10"])
        ax.text(0.283, 0.865, g["temps"][r], transform=ax.transAxes, ha="center", va="center", fontsize=FS, color=ink)
        bd, bu, rd, ru = g["tri"][r]
        for p, m, c in [(bd, "v", blue_tri), (bu, "^", blue_tri), (rd, "v", red_tri), (ru, "^", red_tri)]:
            if p is not None:
                sns.scatterplot(x=[p[0]], y=[p[1]], ax=ax, marker=m, s=34, color=c, linewidth=0, clip_on=False, zorder=5)

        # ---- zoom panels ----
        for k, key, tkey, bkey, bg, xl, ticks, tlabs, tc in [
            (1, "ta", "ta_tri", "bta", bg_ta, g["tax"], g["tat"], g["tal"], blue_tri),
            (2, "la", "la_tri", "bla", bg_la, g["lax"], g["lat"], g["lal"], red_tri),
        ]:
            axz = add_ax(*g["cols"][k], r)
            frame(axz)
            axz.set_facecolor(bg)
            dz = pd.DataFrame(g[key][r], columns=["H", "S"])
            sns.lineplot(data=dz, x="H", y="S", ax=axz, sort=False, estimator=None, color=g["mec"], lw=1.0,
                         marker="o", markersize=4.8, markerfacecolor=g["mfc"], markeredgecolor=g["mec"],
                         markeredgewidth=0.6)
            axz.set_xlim(*xl)
            axz.set_ylim(0, 100)
            axz.set_xlabel("")
            axz.set_ylabel("")
            axz.xaxis.set_major_locator(FixedLocator(ticks))
            axz.xaxis.set_minor_locator(MultipleLocator(0.5))
            axz.yaxis.set_major_locator(FixedLocator([8, 27, 46, 65, 84]))
            axz.tick_params(axis="x", which="both", direction="in", length=6, width=1.2, colors=ink, labelsize=FS,
                            pad=2, bottom=True, top=False, labelbottom=last)
            axz.tick_params(axis="y", which="both", direction="in", length=6, width=1.2, colors=ink,
                            left=True, right=False, labelleft=False)
            if last:
                axz.set_xticklabels(tlabs)
            tp = g[tkey][r]
            if tp is not None:
                sns.scatterplot(x=[tp[0]], y=[tp[1]], ax=axz, marker="v", s=150, color=tc, linewidth=0, zorder=5)
            b = g[bkey][r]
            axz.plot([0.165, 0.165], [b[0] / 100, b[1] / 100], transform=axz.transAxes, color=bar_cols[b[2]],
                     lw=3.2, solid_capstyle="butt", zorder=4)

# ---------------- titles & labels ----------------
renderer = fig.canvas.get_renderer()


def fig_text(xp, yp, s, **kw):
    return fig.text(xp / W, 1 - yp / H, s, **kw)


def centered_parts(xc, yp, parts, fs):
    objs = []
    widths = []
    for s, c in parts:
        t = fig_text(0, yp, s, color=c, fontsize=fs, ha="left", va="center")
        objs.append(t)
        widths.append(t.get_window_extent(renderer).width)
    gap = 4
    total = sum(widths) + gap * (len(parts) - 1)
    x = xc - total / 2
    for t, w in zip(objs, widths):
        t.set_position((x / W, 1 - yp / H))
        x += w + gap


TFS = 12.5
mat_cols = ["#E3202C", "#2E6DB4", "#22A04B"]
for g, mc in zip(groups, mat_cols):
    (l0, l1), (t0, t1), (a0, a1) = g["cols"]
    xc = (l0 + l1) / 2
    fig_text(xc, 13, "LSSE vs $H$", ha="center", va="center", fontsize=TFS, color=ink)
    centered_parts(xc, 33, [("in", ink), (g["mat"], mc)], TFS)
    fig_text(l0 - 32, 30, g["letters"][0], ha="center", va="center", fontsize=TFS, color=ink)
    fig_text(t0, 33, g["letters"][1] + r" $H$ ~ $H_{\mathrm{TA}}$", ha="left", va="center", fontsize=TFS, color=ink)
    fig_text(a0, 33, g["letters"][2] + r" $H$ ~ $H_{\mathrm{LA}}$", ha="left", va="center", fontsize=TFS, color=ink)
    for (c0, c1) in g["cols"]:
        fig_text((c0 + c1) / 2, 953, r"$\mu_0H$ (T)", ha="center", va="center", fontsize=TFS, color=ink)

fig.text(19 / W, 1 - 480 / H, "$S$ (μV/K)", rotation=90, ha="center", va="center", fontsize=TFS, color=ink)

fig.savefig("out.png", dpi=100)
